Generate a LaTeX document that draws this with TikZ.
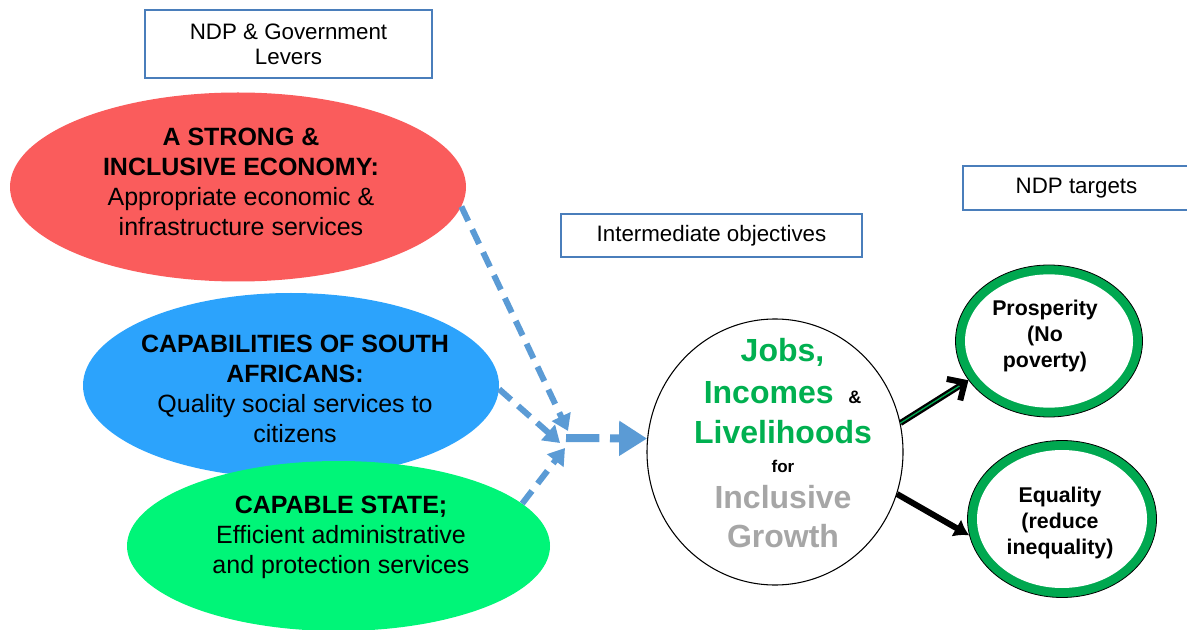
\documentclass[tikz,border=0pt]{standalone}
\usepackage{fontspec}
\setmainfont{Liberation Sans}
\usetikzlibrary{shapes.geometric,arrows.meta}
\definecolor{redfill}{RGB}{250,92,92}
\definecolor{bluefill}{RGB}{44,163,252}
\definecolor{greenfill}{RGB}{0,245,120}
\definecolor{ringgreen}{RGB}{0,168,80}
\definecolor{txtgreen}{RGB}{0,176,80}
\definecolor{txtgray}{RGB}{166,166,166}
\definecolor{boxline}{RGB}{74,126,187}
\definecolor{arrowblue}{RGB}{91,155,213}
\begin{document}
\begin{tikzpicture}[x=0.75pt,y=-0.75pt,
  lever/.style={ellipse, inner sep=0pt},
  levertext/.style={align=center, inner sep=0pt, font=\fontsize{18.75}{22.5}\selectfont},
  labelbox/.style={rectangle, draw=boxline, line width=1pt, fill=white, inner sep=0pt, align=center, font=\fontsize{16.75}{19}\selectfont},
  bigline/.style={anchor=base, inner sep=0pt, font=\fontsize{24}{28}\selectfont\bfseries},
  ringout/.style={ellipse, draw=black, line width=0.6pt, fill=ringgreen, inner sep=0pt},
  ringin/.style={ellipse, fill=white, inner sep=0pt},
  targettext/.style={align=center, inner sep=0pt, font=\fontsize{16}{19.5}\selectfont\bfseries},
  dashblue/.style={draw=arrowblue, line width=4.5pt, dash pattern=on 12pt off 7pt, -{Triangle[length=12pt,width=15pt]}},
  dashmain/.style={draw=arrowblue, line width=6pt, dash pattern=on 25pt off 8pt, -{Triangle[length=21pt,width=25pt]}},
  blackarrow/.style={draw=black, line width=4.5pt}
]
\useasboundingbox (0,0) rectangle (1187,630);
\fill[white] (0,0) rectangle (1187,630);

% lever ellipses
\node[lever, fill=redfill, minimum width=342pt, minimum height=141.75pt] (econ) at (238,187) {};
\node[lever, fill=bluefill, minimum width=312pt, minimum height=138.75pt] (capab) at (291,385.5) {};
\node[lever, fill=greenfill, minimum width=317.25pt, minimum height=127.5pt] (state) at (338.5,546) {};

\node[levertext] (econtxt) at (241,182) {\textbf{A STRONG \&}\\\textbf{INCLUSIVE ECONOMY:}\\Appropriate economic \&\\infrastructure services};
\node[levertext] (capabtxt) at (295,389) {\textbf{CAPABILITIES OF SOUTH}\\\textbf{AFRICANS:}\\Quality social services to\\citizens};
\node[levertext] (statetxt) at (341,537.5) {\textbf{CAPABLE STATE;}\\Efficient administrative\\and protection services};

% label boxes
\node[labelbox, minimum width=215.25pt, minimum height=51pt] (levers) at (288.5,44) {NDP \& Government\\Levers};
\node[labelbox, minimum width=225.75pt, minimum height=32.25pt] (inter) at (711.5,235.5) {Intermediate objectives};
\node[labelbox, minimum width=170.25pt, minimum height=33pt] (targets) at (1076.5,188) {NDP targets};

% central circle
\node[ellipse, draw=black, line width=0.8pt, fill=white, minimum width=192pt, minimum height=199.5pt, inner sep=0pt] (circ) at (775,452) {};
\node[bigline, text=txtgreen] (jobs) at (782.5,362) {Jobs,};
\node[bigline] (incomes) at (782.5,403) {\textcolor{txtgreen}{Incomes}\hspace{11pt}{\fontsize{13.5}{16}\selectfont\&}};
\node[bigline, text=txtgreen] (liveli) at (783,443) {Livelihoods};
\node[bigline, font=\fontsize{12.75}{15}\selectfont\bfseries] (for) at (783,472) {for};
\node[bigline, text=txtgray] (inclus) at (783,508) {Inclusive};
\node[bigline, text=txtgray] (growth) at (783,547) {Growth};

% target rings
\node[ringout, minimum width=140.25pt, minimum height=114pt] (prosring) at (1049,341) {};
\node[ringin, minimum width=126pt, minimum height=100pt] (prosin) at (1049,341) {};
\node[targettext] (prostxt) at (1045,335.5) {Prosperity\\(No\\poverty)};

\node[ringout, minimum width=141.75pt, minimum height=117.75pt] (eqring) at (1062,519) {};
\node[ringin, minimum width=127.5pt, minimum height=103.5pt] (eqin) at (1062,519) {};
\node[targettext] (eqtxt) at (1060,523) {Equality\\(reduce\\inequality)};

% blue dashed connectors
\coordinate (tip1) at (568,431);
\coordinate (tip2) at (560,443);
\coordinate (tip3) at (565,448);
\coordinate (hub) at (566,438);
\draw[dashblue] (econ.-5) -- (tip1);
\draw[dashblue] (capab.-1) -- (tip2);
\draw[dashblue] (state.13.5) -- (tip3);
\draw[dashmain] (hub) -- (circ.174);

% black arrows
\draw[blackarrow, -{Straight Barb[length=10pt,width=19pt]}] (circ.13) -- (prosring.206);
\draw[ringgreen, line width=1pt, shorten >=8pt] (circ.13) -- (prosring.206);
\draw[blackarrow, -{Latex[length=11pt,width=15pt]}] (circ.-19) -- (eqring.190);
\end{tikzpicture}
\end{document}
